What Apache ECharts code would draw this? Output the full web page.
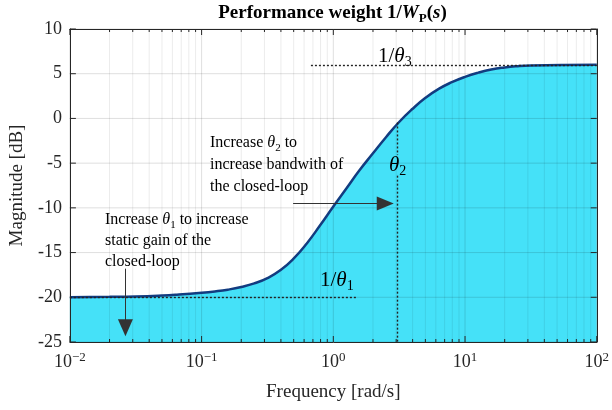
<!DOCTYPE html>
<html>
<head>
<meta charset="utf-8">
<script src="https://cdn.jsdelivr.net/npm/echarts@6/dist/echarts.min.js"></script>
<style>
  html, body { margin: 0; padding: 0; background: #fff; }
  #chart { width: 612px; height: 410px; }
</style>
</head>
<body>
<div id="chart"></div>
<script>
// frequency response of 1/Wp(s)
const freq = [0.01, 0.02, 0.0316, 0.05, 0.0631, 0.1, 0.126, 0.158, 0.2, 0.251, 0.316, 0.398, 0.501, 0.631, 0.794, 1, 1.26, 1.58, 2.0, 2.51, 3.16, 3.98, 5.01, 6.31, 7.94, 10, 12.6, 15.8, 20, 25.1, 31.6, 56.2, 100];
const magDb = [-20.0, -19.95, -19.9, -19.8, -19.72, -19.5, -19.35, -19.15, -18.85, -18.45, -17.85, -16.95, -15.65, -13.95, -11.95, -9.85, -7.8, -5.8, -3.9, -2.1, -0.4, 1.05, 2.3, 3.3, 4.05, 4.65, 5.12, 5.47, 5.7, 5.84, 5.92, 5.985, 6.0];

// axes
const yTicks = [-25, -20, -15, -10, -5, 0, 5, 10];
const xMajor = [0.01, 0.1, 1, 10, 100];
const xMinor = [0.02, 0.03, 0.04, 0.05, 0.06, 0.07, 0.08, 0.09,
  0.2, 0.3, 0.4, 0.5, 0.6, 0.7, 0.8, 0.9,
  2, 3, 4, 5, 6, 7, 8, 9,
  20, 30, 40, 50, 60, 70, 80, 90];

// annotation anchors (data coords)
const theta1Db = -20;
const theta3Db = 6;
const theta2 = 3.05;

const yMin = -25, yMax = 10, xMin = 0.01, xMax = 100;
const serif = '"Liberation Serif", "DejaVu Serif", serif';
const ink = '#262626';

const chart = echarts.init(document.getElementById('chart'));

const curve = freq.map((f, i) => [f, magDb[i]]);
const vGrid = xMajor.map(v => [v, 1]).concat(xMinor.map(v => [v, 0]));
const hGrid = yTicks.map(v => [v]);

function supLabel(value) {
  const e = Math.round(Math.log10(value));
  return '{b|10}{s|' + (e < 0 ? '\u2212' + (-e) : e) + '}';
}

chart.setOption({
  animation: false,
  grid: { left: 67, right: 14, top: 29, bottom: 68, containLabel: false },
  xAxis: [{
    type: 'log', logBase: 10, min: xMin, max: xMax, splitNumber: 4, z: 10,
    axisLine: { show: true, onZero: false, lineStyle: { color: ink, width: 1 } },
    axisTick: { show: false },
    splitLine: { show: false },
    minorSplitLine: { show: false },
    axisLabel: {
      margin: 9, color: ink, formatter: supLabel,
      rich: {
        b: { fontFamily: serif, fontSize: 18, color: ink, lineHeight: 23 },
        s: { fontFamily: serif, fontSize: 13, color: ink, verticalAlign: 'top', lineHeight: 13 }
      }
    },
    name: 'Frequency [rad/s]', nameLocation: 'middle', nameGap: 41,
    nameTextStyle: { fontFamily: serif, fontSize: 19, color: ink }
  }, {
    type: 'log', logBase: 10, min: xMin, max: xMax, position: 'top', z: 10,
    axisLine: { show: true, onZero: false, lineStyle: { color: ink, width: 1 } },
    axisTick: { show: false }, axisLabel: { show: false }, splitLine: { show: false }
  }],
  yAxis: [{
    type: 'value', min: yMin, max: yMax, interval: 5, z: 10,
    axisLine: { show: true, onZero: false, lineStyle: { color: ink, width: 1 } },
    axisTick: { show: false },
    splitLine: { show: false },
    axisLabel: { margin: 8, color: ink, fontFamily: serif, fontSize: 18 },
    name: 'Magnitude [dB]', nameLocation: 'middle', nameGap: 33,
    nameTextStyle: { fontFamily: serif, fontSize: 19, color: ink }
  }, {
    type: 'value', min: yMin, max: yMax, interval: 5, position: 'right', z: 10,
    axisLine: { show: true, onZero: false, lineStyle: { color: ink, width: 1 } },
    axisTick: { show: false }, axisLabel: { show: false }, splitLine: { show: false }
  }],
  series: [{
    // filled area
    type: 'line', data: curve, smooth: 0.5, symbol: 'none', z: 1,
    lineStyle: { width: 0 },
    areaStyle: { color: '#45E1F8', opacity: 1, origin: 'start' }
  }, {
    // vertical grid + minor/major ticks
    type: 'custom', z: 2, silent: true, data: vGrid,
    renderItem: (params, api) => {
      const x = api.value(0), major = api.value(1) === 1;
      const b = api.coord([x, yMin]), t = api.coord([x, yMax]);
      const len = major ? 6 : 3;
      return {
        type: 'group', children: [
          { type: 'line', shape: { x1: b[0], y1: b[1], x2: t[0], y2: t[1] },
            style: { stroke: major ? 'rgba(0,0,0,0.13)' : 'rgba(0,0,0,0.08)', lineWidth: 1 } },
          { type: 'line', shape: { x1: b[0], y1: b[1], x2: b[0], y2: b[1] - len }, style: { stroke: ink, lineWidth: 1 } },
          { type: 'line', shape: { x1: t[0], y1: t[1], x2: t[0], y2: t[1] + len }, style: { stroke: ink, lineWidth: 1 } }
        ]
      };
    }
  }, {
    // horizontal grid + ticks
    type: 'custom', z: 2, silent: true, data: hGrid,
    renderItem: (params, api) => {
      const y = api.value(0);
      const l = api.coord([xMin, y]), r = api.coord([xMax, y]);
      return {
        type: 'group', children: [
          { type: 'line', shape: { x1: l[0], y1: l[1], x2: r[0], y2: r[1] },
            style: { stroke: 'rgba(0,0,0,0.13)', lineWidth: 1 } },
          { type: 'line', shape: { x1: l[0], y1: l[1], x2: l[0] + 6, y2: l[1] }, style: { stroke: ink, lineWidth: 1 } },
          { type: 'line', shape: { x1: r[0], y1: r[1], x2: r[0] - 6, y2: r[1] }, style: { stroke: ink, lineWidth: 1 } }
        ]
      };
    }
  }, {
    // the curve itself + annotation lines
    type: 'line', data: curve, smooth: 0.5, symbol: 'none', z: 3,
    lineStyle: { color: '#123C80', width: 2.5 },
    markLine: {
      silent: true, symbol: 'none', label: { show: false },
      lineStyle: { color: '#222', width: 1.4, type: [2, 2] },
      data: [
        [{ coord: [xMin, theta1Db] }, { coord: [1.53, theta1Db] }],
        [{ coord: [0.676, theta3Db] }, { coord: [xMax, theta3Db] }],
        [{ coord: [theta2, -0.45] }, { coord: [theta2, -4.1] }],
        [{ coord: [theta2, -6.4] }, { coord: [theta2, yMin] }],
        [{ coord: [0.495, -9.5], lineStyle: { type: 'solid', width: 1, color: '#333' } },
         { coord: [2.48, -9.5], symbol: 'triangle', symbolSize: [14, 17], itemStyle: { color: '#1a1a1a' } }],
        [{ coord: [0.0264, -16.8], lineStyle: { type: 'solid', width: 1, color: '#333' } },
         { coord: [0.0264, -23.4], symbol: 'triangle', symbolSize: [15, 17], itemStyle: { color: '#1a1a1a' } }]
      ]
    }
  }]
});

// text annotations
const richBase = (fs) => ({
  n: { fontFamily: serif, fontSize: fs, color: ink, lineHeight: fs + 6 },
  t: { fontFamily: serif, fontSize: fs, fontStyle: 'italic', color: ink, lineHeight: fs + 6 },
  tb: { fontFamily: serif, fontSize: fs, fontStyle: 'italic', fontWeight: 'bold', color: ink, lineHeight: fs + 6 },
  nb: { fontFamily: serif, fontSize: fs, fontWeight: 'bold', color: ink, lineHeight: fs + 6 },
  s: { fontFamily: serif, fontSize: Math.round(fs * 0.68), color: ink, verticalAlign: 'bottom', lineHeight: Math.round(fs * 0.68) + 1 },
  sb: { fontFamily: serif, fontSize: Math.round(fs * 0.68), fontWeight: 'bold', color: ink, verticalAlign: 'bottom', lineHeight: Math.round(fs * 0.68) + 1 }
});

function txt(x, y, text, fs, align) {
  return {
    type: 'text', x: x, y: y, z: 20, silent: true,
    style: { text: text, align: align || 'left', verticalAlign: 'middle', rich: richBase(fs) }
  };
}

chart.setOption({
  graphic: [
    txt(332.5, 13, '{nb|Performance weight 1/}{tb|W}{sb|P}{nb|(}{tb|s}{nb|)}', 19, 'center'),
    txt(210, 143, '{n|Increase }{t|θ}{s|2}{n| to}', 16),
    txt(210, 165, '{n|increase bandwith of}', 16),
    txt(210, 187, '{n|the closed-loop}', 16),
    txt(105, 220, '{n|Increase }{t|θ}{s|1}{n| to increase}', 16),
    txt(105, 241, '{n|static gain of the}', 16),
    txt(105, 262, '{n|closed-loop}', 16),
    txt(320, 280, '{n|1/}{t|θ}{s|1}', 21),
    txt(389, 165, '{t|θ}{s|2}', 21),
    txt(378, 56, '{n|1/}{t|θ}{s|3}', 21)
  ]
});
</script>
</body>
</html>
